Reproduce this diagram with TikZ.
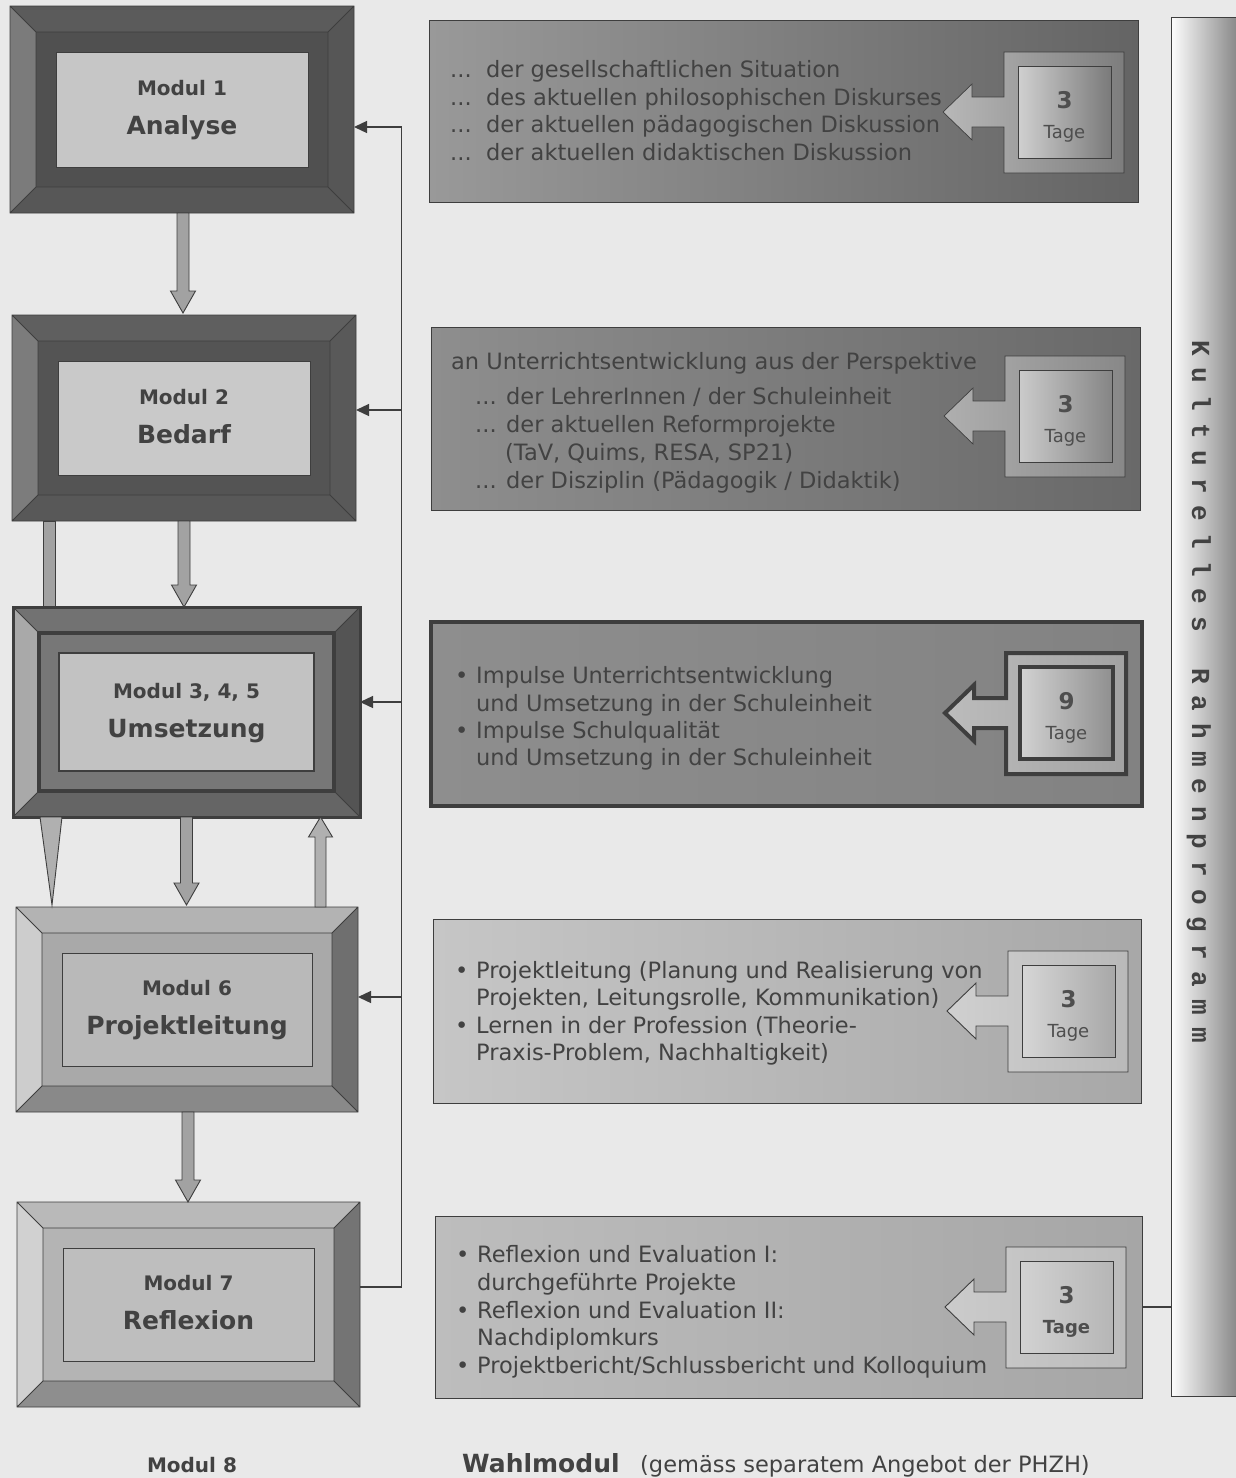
\documentclass[tikz,border=0pt]{standalone}
\usepackage{fontspec}
\setmainfont{DejaVu Sans}
\newfontfamily\kulfont{Liberation Mono}
\usetikzlibrary{arrows.meta,calc}

\definecolor{paper}{HTML}{E9E9E9}
\definecolor{ink}{HTML}{424242}
\definecolor{numc}{HTML}{4E4E4E}
\definecolor{edge}{HTML}{3E3E3E}
\definecolor{arrc}{HTML}{A2A2A2}
\definecolor{arrl}{HTML}{B0B0B0}
% module colours
\definecolor{m1top}{HTML}{5B5B5B}\definecolor{m1left}{HTML}{7B7B7B}\definecolor{m1right}{HTML}{565656}
\definecolor{m1bot}{HTML}{575757}\definecolor{m1frame}{HTML}{505050}\definecolor{m1light}{HTML}{C6C6C6}
\definecolor{m2top}{HTML}{5F5F5F}\definecolor{m2left}{HTML}{7C7C7C}\definecolor{m2right}{HTML}{595959}
\definecolor{m2bot}{HTML}{585858}\definecolor{m2frame}{HTML}{545454}\definecolor{m2light}{HTML}{C9C9C9}
\definecolor{m3top}{HTML}{727272}\definecolor{m3left}{HTML}{A9A9A9}\definecolor{m3right}{HTML}{545454}
\definecolor{m3bot}{HTML}{656565}\definecolor{m3frame}{HTML}{777777}\definecolor{m3light}{HTML}{C2C2C2}
\definecolor{m6top}{HTML}{B3B3B3}\definecolor{m6left}{HTML}{CDCDCD}\definecolor{m6right}{HTML}{6F6F6F}
\definecolor{m6bot}{HTML}{898989}\definecolor{m6frame}{HTML}{A9A9A9}\definecolor{m6light}{HTML}{B9B9B9}
\definecolor{m7top}{HTML}{B9B9B9}\definecolor{m7left}{HTML}{D1D1D1}\definecolor{m7right}{HTML}{747474}
\definecolor{m7bot}{HTML}{8E8E8E}\definecolor{m7frame}{HTML}{B4B4B4}\definecolor{m7light}{HTML}{BEBEBE}
% info box colours
\definecolor{b1a}{HTML}{999999}\definecolor{b1b}{HTML}{868686}\definecolor{b1c}{HTML}{646464}
\definecolor{b2a}{HTML}{8E8E8E}\definecolor{b2b}{HTML}{8A8A8A}\definecolor{b2c}{HTML}{696969}
\definecolor{b3a}{HTML}{8E8E8E}\definecolor{b3b}{HTML}{8A8A8A}\definecolor{b3c}{HTML}{828282}
\definecolor{b4a}{HTML}{C6C6C6}\definecolor{b4b}{HTML}{C2C2C2}\definecolor{b4c}{HTML}{A8A8A8}
\definecolor{b5a}{HTML}{BDBDBD}\definecolor{b5b}{HTML}{C7C7C7}\definecolor{b5c}{HTML}{A6A6A6}
% callout colours
\definecolor{c1a}{HTML}{B8B8B8}\definecolor{c1b}{HTML}{7D7D7D}\definecolor{c1c}{HTML}{D0D0D0}\definecolor{c1d}{HTML}{7A7A7A}
\definecolor{c2a}{HTML}{AFAFAF}\definecolor{c2b}{HTML}{888888}\definecolor{c2c}{HTML}{CBCBCB}\definecolor{c2d}{HTML}{858585}
\definecolor{c3a}{HTML}{BCBCBC}\definecolor{c3b}{HTML}{A2A2A2}\definecolor{c3c}{HTML}{D2D2D2}\definecolor{c3d}{HTML}{8F8F8F}
\definecolor{c4a}{HTML}{D0D0D0}\definecolor{c4b}{HTML}{B9B9B9}\definecolor{c4c}{HTML}{D6D6D6}\definecolor{c4d}{HTML}{A8A8A8}
\definecolor{c5a}{HTML}{CBCBCB}\definecolor{c5b}{HTML}{BCBCBC}\definecolor{c5c}{HTML}{D2D2D2}\definecolor{c5d}{HTML}{B6B6B6}
\definecolor{kra}{HTML}{FDFDFD}\definecolor{krb}{HTML}{D0D0D0}\definecolor{krc}{HTML}{858585}

% bevelled module box: name, x, y, w, h, line1, line2
\newcommand\modbox[7]{%
  \node[inner sep=0pt, outer sep=0pt, minimum width=#4pt, minimum height=#5pt, anchor=north west] (#1) at (#2,#3) {};
  \coordinate (#1a) at ($(#1.north west)+(26,26)$);
  \coordinate (#1b) at ($(#1.north east)+(-26,26)$);
  \coordinate (#1c) at ($(#1.south east)+(-26,-26)$);
  \coordinate (#1d) at ($(#1.south west)+(26,-26)$);
  \fill[#1top] (#1.north west) -- (#1.north east) -- (#1b) -- (#1a) -- cycle;
  \fill[#1bot] (#1.south west) -- (#1.south east) -- (#1c) -- (#1d) -- cycle;
  \fill[#1left] (#1.north west) -- (#1a) -- (#1d) -- (#1.south west) -- cycle;
  \fill[#1right] (#1.north east) -- (#1b) -- (#1c) -- (#1.south east) -- cycle;
  \fill[#1frame] (#1a) rectangle (#1c);
  \draw[bevline] (#1.north west) rectangle (#1.south east)
     (#1.north west) -- (#1a) (#1.north east) -- (#1b)
     (#1.south east) -- (#1c) (#1.south west) -- (#1d)
     (#1a) rectangle (#1c);
  \filldraw[fill=#1light, bevline] ($(#1.north west)+(46,46)$) rectangle ($(#1.south east)+(-46,-46)$);
  \node[modnum] (#1n) at ($(#1.center)+(0,-14)$) {#6};
  \node[modtitle] (#1t) at ($(#1.center)+(0,25)$) {#7};
}

% block arrow down: start, tip, fill
\newcommand\darr[3]{%
  \filldraw[fill=#3, draw=edge, line width=0.9pt]
    ($(#1)+(-6,0)$) -- ($(#2)+(-6,-22)$) -- ($(#2)+(-12.5,-22)$) -- (#2)
    -- ($(#2)+(12.5,-22)$) -- ($(#2)+(6,-22)$) -- ($(#1)+(6,0)$) -- cycle;
}
% block arrow up: start (bottom), tip (top), fill
\newcommand\uarr[3]{%
  \filldraw[fill=#3, draw=edge, line width=0.9pt]
    ($(#1)+(-5.5,0)$) -- ($(#2)+(-5.5,20)$) -- ($(#2)+(-12,20)$) -- (#2)
    -- ($(#2)+(12,20)$) -- ($(#2)+(5.5,20)$) -- ($(#1)+(5.5,0)$) -- cycle;
}

% info box: name, x, y, w, h, paint options
\newcommand\infobox[6]{%
  \node[inner sep=0pt, outer sep=0pt, minimum width=#4pt, minimum height=#5pt, anchor=north west] (#1) at (#2,#3) {};
  \path[#6] (#1.north west) rectangle (#1.south east);
}

% "Tage" callout: name, x, y, number, outer paint, inner paint, extra Tage style
\newcommand\callout[7]{%
  \coordinate (#1) at (#2,#3);
  \path[#5] ($(#1)+(-61,60)$) -- ($(#1)+(-32,32)$) -- ($(#1)+(-32,45)$) -- ($(#1)+(0,45)$)
     -- (#1) -- ($(#1)+(120,0)$) -- ($(#1)+(120,121)$) -- ($(#1)+(0,121)$)
     -- ($(#1)+(0,75)$) -- ($(#1)+(-32,75)$) -- ($(#1)+(-32,88)$) -- cycle;
  \path[#6] ($(#1)+(14,14)$) rectangle ($(#1)+(107,106)$);
  \node[numtxt] (#1n) at ($(#1)+(60.5,56)$) {#4};
  \node[tagetxt,#7] (#1t) at ($(#1)+(60.5,86)$) {Tage};
}

\begin{document}
\begin{tikzpicture}[x=1pt,y=-1pt,
  bevline/.style={draw=edge, line width=0.9pt},
  modnum/.style={anchor=base, inner sep=0pt, text=ink, font=\fontsize{20}{24}\selectfont\bfseries},
  modtitle/.style={anchor=base, inner sep=0pt, text=ink, font=\fontsize{25}{30}\selectfont\bfseries},
  bt/.style={anchor=base west, inner sep=0pt, text=ink, font=\fontsize{22.5}{27}\selectfont},
  fbline/.style={draw=edge, line width=1.3pt},
  fbtip/.style={-{Triangle[length=13pt,width=12pt]}},
  numtxt/.style={anchor=base, inner sep=0pt, text=numc, font=\fontsize{23}{27}\selectfont\bfseries},
  tagetxt/.style={anchor=base, inner sep=0pt, text=numc, font=\fontsize{18}{22}\selectfont},
  krletter/.style={rotate=-90, anchor=base, inner sep=0pt, text=ink, font=\kulfont\bfseries\fontsize{26}{30}\selectfont},
]
\fill[paper] (0,0) rectangle (1236,1478);
\useasboundingbox (0,0) rectangle (1236,1478);

% ---------- modules ----------
\modbox{m1}{10}{6}{344}{207}{Modul 1}{Analyse}
\modbox{m2}{12}{315}{344}{206}{Modul 2}{Bedarf}

% left long bar behind module 3
\filldraw[fill=arrc, draw=edge, line width=0.9pt] ($(m2.south west)+(31,0)$) rectangle ($(m2.south west)+(43,100)$);

\modbox{m3}{13}{607}{347}{210}{Modul 3, 4, 5}{Umsetzung}
\draw[draw=edge, line width=3pt] (m3.north west) rectangle (m3.south east);
\draw[draw=edge, line width=4.5pt] (m3a) rectangle (m3c);
\draw[draw=edge, line width=1.6pt] ($(m3.north west)+(46,46)$) rectangle ($(m3.south east)+(-46,-46)$);

\modbox{m6}{16}{907}{342}{205}{Modul 6}{Projektleitung}
\modbox{m7}{17}{1202}{343}{205}{Modul 7}{Reflexion}

% ---------- block arrows between modules ----------
\coordinate (t12) at ($(m1.south |- m2.north)+(1,-2)$);
\darr{$(m1.south)+(1,0)$}{t12}{arrc}
\coordinate (t23) at ($(m2.south |- m3.north)+(0,0)$);
\darr{m2.south}{t23}{arrc}
\coordinate (t36) at ($(m3.south |- m6.north)+(0,-2)$);
\darr{m3.south}{t36}{arrc}
\coordinate (t67) at ($(m6.south |- m7.north)+(1,0)$);
\darr{$(m6.south)+(1,0)$}{t67}{arrc}
\coordinate (s63) at ($(m6.north)+(133.5,0)$);
\coordinate (t63) at (s63 |- m3.south);
\uarr{s63}{t63}{arrl}
\coordinate (tipL) at ($(m6.north west)+(36,-2)$);
\filldraw[fill=arrl, draw=edge, line width=0.9pt] ($(m3.south west)+(27,0)$) -- ($(m3.south west)+(49,0)$) -- (tipL) -- cycle;

% ---------- feedback line ----------
\coordinate (fbb) at (401.5,1287);
\coordinate (fbt) at (401.5,127);
\draw[fbline, fbtip] (m7.east |- fbb) -- (fbb) -- (fbt) -- (m1.east |- fbt);
\coordinate (f2) at (401.5,410);
\coordinate (f3) at (401.5,702);
\coordinate (f6) at (401.5,997);
\draw[fbline, fbtip] (f2) -- (m2.east |- f2);
\draw[fbline, fbtip] (f3) -- (m3.east |- f3);
\draw[fbline, fbtip] (f6) -- (m6.east |- f6);

% ---------- Kulturelles Rahmenprogramm bar ----------
\node[inner sep=0pt, outer sep=0pt, minimum width=68pt, minimum height=1379pt, anchor=north west] (kr) at (1171,17) {};
\shade[left color=kra, middle color=krb, right color=krc] (kr.north west) rectangle (kr.south east);
\draw[draw=edge, line width=1pt] (kr.north east) -- (kr.north west) -- (kr.south west) -- (kr.south east);
\foreach \ch [count=\i from 0] in {K,u,l,t,u,r,e,l,l,e,s}
  \node[krletter] (ka\i) at (1192,{348+27.6*\i}) {\ch};
\foreach \ch [count=\i from 0] in {R,a,h,m,e,n,p,r,o,g,r,a,m,m}
  \node[krletter] (kb\i) at (1192,{676+27.6*\i}) {\ch};

% ---------- info boxes ----------
\infobox{b1}{429}{20}{709}{182}{left color=b1a, middle color=b1b, right color=b1c, draw=edge, line width=1pt}
\infobox{b2}{431}{327}{709}{183}{left color=b2a, middle color=b2b, right color=b2c, draw=edge, line width=1pt}
\infobox{b3}{431}{622}{711}{184}{left color=b3a, middle color=b3b, right color=b3c, draw=edge, line width=3.5pt}
\infobox{b4}{433}{919}{708}{184}{left color=b4a, middle color=b4b, right color=b4c, draw=edge, line width=1pt}
\infobox{b5}{435}{1216}{707}{182}{left color=b5a, middle color=b5b, right color=b5c, draw=edge, line width=1pt}

\coordinate (k5) at (1150,1307);
\draw[fbline] (b5.east |- k5) -- (kr.west |- k5);

% ---------- callouts ----------
\callout{c1}{1004}{52}{3}{{left color=c1a, right color=c1b, draw=edge, line width=0.7pt}}{{left color=c1c, right color=c1d, draw=edge, line width=0.7pt}}{}
\callout{c2}{1005}{356}{3}{{left color=c2a, right color=c2b, draw=edge, line width=0.7pt}}{{left color=c2c, right color=c2d, draw=edge, line width=0.7pt}}{}
\callout{c3}{1006}{653}{9}{{left color=c3a, right color=c3b, draw=edge, line width=4pt}}{{left color=c3c, right color=c3d, draw=edge, line width=4pt}}{}
\callout{c4}{1008}{951}{3}{{left color=c4a, right color=c4b, draw=edge, line width=0.9pt}}{{left color=c4c, right color=c4d, draw=edge, line width=0.9pt}}{}
\callout{c5}{1006}{1247}{3}{{left color=c5a, right color=c5b, draw=edge, line width=0.9pt}}{{left color=c5c, right color=c5d, draw=edge, line width=0.9pt}}{font=\fontsize{18}{22}\selectfont\bfseries}

% ---------- box texts ----------
\node[bt] (d1) at (450,77.5) {...};
\node[bt] (d2) at (450,105) {...};
\node[bt] (d3) at (450,132.5) {...};
\node[bt] (d4) at (450,160) {...};
\node[bt] (a1) at (486,77.5) {der gesellschaftlichen Situation};
\node[bt] (a2) at (486,105) {des aktuellen philosophischen Diskurses};
\node[bt] (a3) at (486,132.5) {der aktuellen pädagogischen Diskussion};
\node[bt] (a4) at (486,160) {der aktuellen didaktischen Diskussion};

\node[bt] (e1) at (451,369) {an Unterrichtsentwicklung aus der Perspektive};
\node[bt] (e2) at (475,404) {... der LehrerInnen / der Schuleinheit};
\node[bt] (e3) at (475,432) {... der aktuellen Reformprojekte};
\node[bt] (e4) at (505,460) {(TaV, Quims, RESA, SP21)};
\node[bt] (e5) at (475,488) {... der Disziplin (Pädagogik / Didaktik)};

\node[bt] (g0) at (455,683) {•};
\node[bt] (g1) at (476,683) {Impulse Unterrichtsentwicklung};
\node[bt] (g2) at (476,711) {und Umsetzung in der Schuleinheit};
\node[bt] (g5) at (455,738) {•};
\node[bt] (g3) at (476,738) {Impulse Schulqualität};
\node[bt] (g4) at (476,765) {und Umsetzung in der Schuleinheit};

\node[bt] (h0) at (455,978) {•};
\node[bt] (h1) at (476,978) {Projektleitung (Planung und Realisierung von};
\node[bt] (h2) at (476,1005) {Projekten, Leitungsrolle, Kommunikation)};
\node[bt] (h5) at (455,1033) {•};
\node[bt] (h3) at (476,1033) {Lernen in der Profession (Theorie-};
\node[bt] (h4) at (476,1060) {Praxis-Problem, Nachhaltigkeit)};

\node[bt] (r0) at (456,1262) {•};
\node[bt] (r1) at (477,1262) {Reflexion und Evaluation I:};
\node[bt] (r2) at (477,1290) {durchgeführte Projekte};
\node[bt] (r6) at (456,1318) {•};
\node[bt] (r3) at (477,1318) {Reflexion und Evaluation II:};
\node[bt] (r4) at (477,1345) {Nachdiplomkurs};
\node[bt] (r7) at (456,1373) {•};
\node[bt] (r5) at (477,1373) {Projektbericht/Schlussbericht und Kolloquium};

% ---------- bottom line ----------
\node[modnum] (m8) at (192,1472) {Modul 8};
\node[anchor=base west, inner sep=0pt, text=ink, font=\fontsize{25}{30}\selectfont\bfseries] (wm) at (462,1472) {Wahlmodul};
\node[bt] (wt) at (640,1472) {(gemäss separatem Angebot der PHZH)};
\end{tikzpicture}
\end{document}
